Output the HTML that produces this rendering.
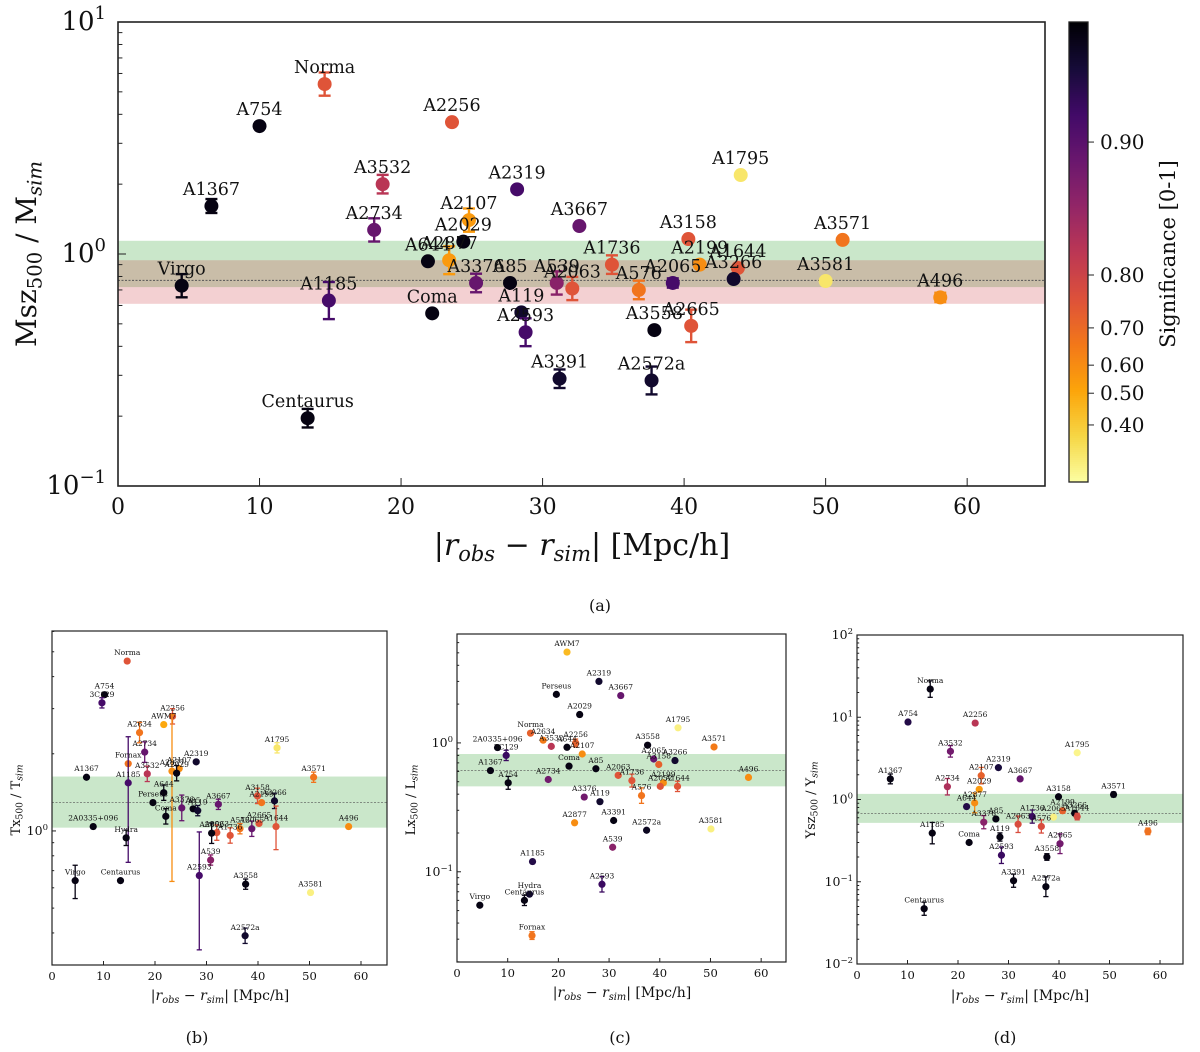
<!DOCTYPE html>
<html><head><meta charset="utf-8"><style>
html,body{margin:0;padding:0;background:#fff;}
svg{display:block;font-family:"DejaVu Serif","Liberation Serif",serif;}
</style></head><body>
<svg id="fig" width="1200" height="1052" viewBox="0 0 1200 1052" xmlns="http://www.w3.org/2000/svg"></svg>
<script>
// ---------- Panel (a): M_SZ500 / M_sim ----------
const aNames=["Norma","A754","A2256","A1795","A3532","A2319","A1367","A2107","A3667","A2734","A2029","A3158","A3571","A644","A2877","A3376","A85","A539","A2063","A1736","A576","A2065","A2199","A1644","A3266","A3581","A496","Virgo","A1185","Coma","A119","A2593","A3558","A2665","A3391","A2572a","Centaurus"];
const aX=[14.6,10.0,23.6,44.0,18.7,28.2,6.6,24.8,32.6,18.1,24.4,40.3,51.2,21.9,23.4,25.3,27.7,31.0,32.1,34.9,36.8,39.2,41.1,43.8,43.5,50.0,58.1,4.5,14.9,22.2,28.5,28.8,37.9,40.5,31.2,37.7,13.4];
const aY=[5.4,3.56,3.7,2.19,2.0,1.9,1.61,1.40,1.32,1.27,1.13,1.16,1.15,0.93,0.94,0.75,0.75,0.75,0.71,0.90,0.70,0.75,0.90,0.87,0.78,0.765,0.65,0.73,0.63,0.555,0.56,0.46,0.47,0.49,0.29,0.285,0.196];
const aSig=[0.75,0.99,0.75,0.35,0.82,0.92,0.99,0.55,0.89,0.89,0.99,0.75,0.67,0.99,0.55,0.89,0.99,0.86,0.75,0.75,0.67,0.92,0.6,0.75,0.97,0.35,0.6,0.99,0.92,0.99,0.97,0.92,0.99,0.75,0.97,0.97,0.99];
const aErrLo=[0.05,0,0,0,0.04,0,0.03,0.05,0,0.05,0,0,0,0,0.06,0.04,0,0.05,0.05,0.04,0.04,0.02,0,0,0,0,0.02,0.05,0.08,0,0,0.06,0,0.07,0.04,0.06,0.04];
const aErrHi=aErrLo;
const aBands=[[0.72,1.14],[0.61,0.94]];
const aLine=[0.77];
const aXTicks=[0,10,20,30,40,50,60];
const aYTickExp=[1,0,-1];

// ---------- Panel (b): T_X500 / T_sim ----------
const bNames=["Norma","A754","3C129","A2256","AWM7","A2877","A2634","A2734","Fornax","A3532","A2107","A2029","A2319","A1795","A3571","A1367","A1185","A644","Perseus","Coma","A3376","A85","A119","A3667","A3158","A2199","A3266","2A0335+096","A2665","A1644","A2063","A2052","A1736","A576","A2065","A496","Hydra","A539","A2593","Virgo","Centaurus","A3558","A3581","A2572a"];
const bX=[14.6,10.2,9.7,23.4,21.7,23.3,17.0,18.0,14.8,18.5,24.7,24.2,28.0,43.7,50.8,6.7,14.8,21.7,19.6,22.1,25.2,27.4,28.3,32.3,39.9,40.7,43.2,8.0,40.2,43.5,32.0,31.0,34.6,36.5,38.8,57.6,14.4,30.8,28.6,4.5,13.3,37.6,50.2,37.5];
const bY=[4.6,3.4,3.16,2.8,2.6,1.71,2.42,2.03,1.83,1.67,1.75,1.68,1.86,2.11,1.62,1.62,1.54,1.41,1.29,1.14,1.23,1.22,1.2,1.27,1.37,1.29,1.31,1.04,1.07,1.04,0.985,0.98,0.96,1.02,1.02,1.04,0.94,0.77,0.67,0.64,0.64,0.62,0.575,0.39];
const bSig=[0.75,0.99,0.92,0.75,0.5,0.6,0.67,0.89,0.67,0.82,0.6,0.99,0.97,0.35,0.67,0.99,0.92,0.99,0.99,0.99,0.89,0.99,0.97,0.89,0.75,0.67,0.97,0.99,0.75,0.75,0.75,0.99,0.75,0.67,0.89,0.6,0.99,0.86,0.92,0.99,0.99,0.99,0.33,0.97];
const bErrLo=[0,0,0.02,0.03,0,0.43,0.04,0.04,0,0.03,0,0.03,0,0.02,0.02,0,0.31,0.03,0,0.03,0.05,0,0.02,0.02,0.03,0,0.03,0,0,0.09,0.03,0.04,0.03,0.02,0.03,0,0.03,0.02,0.29,0.07,0,0.02,0,0.03];
const bErrHi=[0,0,0.02,0.03,0,0.22,0.04,0.04,0,0.03,0,0.03,0,0.02,0.02,0,0.18,0.03,0,0.03,0.05,0,0.02,0.02,0.03,0,0.03,0,0,0.08,0.03,0.04,0.03,0.02,0.03,0,0.03,0.02,0.17,0.06,0,0.02,0,0.03];
const bBands=[[1.03,1.63]];
const bLine=[1.29];
const bXTicks=[0,10,20,30,40,50,60];
const bYTickExp=[0];

// ---------- Panel (c): L_X500 / L_sim ----------
const cNames=["AWM7","A2319","Perseus","A3667","A2029","A1795","Norma","A2634","A3532","A644","A2256","A2107","2A0335+096","3C129","A3558","A3571","A2065","A3158","A3266","A1367","Coma","A85","A2063","A1736","A2734","A754","A2199","A2052","A1644","A496","A576","A3376","A119","A3391","A2877","A2572a","A3581","A539","A1185","A2593","Hydra","Centaurus","Virgo","Fornax"];
const cX=[21.7,28.0,19.6,32.3,24.2,43.6,14.5,17.0,18.6,21.7,23.4,24.7,8.0,9.7,37.6,50.7,38.8,39.8,43.0,6.6,22.1,27.4,31.8,34.5,18.0,10.1,40.7,40.1,43.5,57.5,36.4,25.1,28.2,30.9,23.2,37.4,50.1,30.7,14.9,28.6,14.3,13.3,4.5,14.8];
const cY=[5.07,3.0,2.38,2.33,1.66,1.31,1.19,1.05,0.94,0.925,1.0,0.82,0.92,0.80,0.96,0.93,0.75,0.68,0.73,0.61,0.66,0.63,0.56,0.51,0.52,0.49,0.49,0.46,0.46,0.54,0.39,0.38,0.35,0.25,0.24,0.21,0.215,0.155,0.12,0.08,0.067,0.06,0.055,0.032];
const cSig=[0.45,0.97,0.99,0.89,0.99,0.33,0.72,0.65,0.82,0.99,0.72,0.6,0.99,0.93,0.99,0.65,0.89,0.72,0.97,0.99,0.99,0.99,0.75,0.75,0.88,0.99,0.6,0.75,0.75,0.6,0.67,0.88,0.97,0.99,0.6,0.98,0.33,0.86,0.95,0.93,0.97,0.99,0.99,0.67];
const cErrLo=[0,0,0,0,0,0,0,0,0,0,0.03,0,0,0.04,0,0,0,0,0,0,0,0,0,0.05,0,0.05,0,0,0.04,0,0.06,0,0,0,0,0,0,0,0,0.06,0,0.04,0,0.03];
const cErrHi=cErrLo;
const cBands=[[0.46,0.82]];
const cLine=[0.61];
const cXTicks=[0,10,20,30,40,50,60];
const cYTickExp=[0,-1];

// ---------- Panel (d): Y_SZ500 / Y_sim ----------
const dNames=["Norma","A754","A2256","A3532","A1795","A2319","A2107","A3667","A1367","A2734","A2029","A3158","A3571","A2877","A644","A85","A3376","A1736","A2065","A2199","A3266","A1644","A2063","A576","A496","A1185","Coma","A119","A2665","A2593","A3558","A3391","A2572a","Centaurus"];
const dX=[14.5,10.1,23.4,18.5,43.6,28.0,24.6,32.3,6.6,17.9,24.2,39.9,50.8,23.3,21.7,27.5,25.1,34.7,38.9,40.7,43.1,43.6,31.9,36.5,57.6,14.9,22.2,28.3,40.2,28.6,37.6,31.0,37.4,13.3];
const dY=[22,8.75,8.5,3.85,3.7,2.44,1.95,1.78,1.78,1.43,1.33,1.08,1.15,0.91,0.82,0.58,0.53,0.62,0.61,0.73,0.68,0.62,0.50,0.47,0.41,0.39,0.30,0.35,0.29,0.21,0.20,0.103,0.087,0.047];
const dSig=[0.99,0.95,0.82,0.88,0.32,0.96,0.72,0.89,0.99,0.83,0.55,0.99,0.99,0.6,0.95,0.99,0.86,0.93,0.33,0.72,0.99,0.78,0.77,0.77,0.68,0.99,0.99,0.99,0.88,0.93,0.99,0.99,0.99,0.99];
const dErrLo=[0.1,0,0,0.07,0,0,0.1,0,0.06,0.1,0,0,0.03,0.12,0,0,0.08,0.08,0,0.03,0,0.04,0.1,0.08,0.04,0.13,0,0.05,0.12,0.1,0.04,0.08,0.12,0.08];
const dErrHi=dErrLo;
const dBands=[[0.52,1.17]];
const dLine=[0.68];
const dXTicks=[0,10,20,30,40,50,60];
const dYTickExp=[2,1,0,-1,-2];

// ---------- colormap ----------
const INF=[[0,0,0,4],[0.1,22,11,57],[0.2,66,10,104],[0.3,106,23,110],[0.4,147,38,103],[0.5,188,55,84],[0.6,221,81,58],[0.7,243,120,25],[0.8,252,165,10],[0.9,246,215,70],[1,252,255,164]];
function inferno(t){t=Math.max(0,Math.min(1,t));for(let i=1;i<INF.length;i++){if(t<=INF[i][0]){const a=INF[i-1],b=INF[i],u=(t-a[0])/(b[0]-a[0]);return `rgb(${Math.round(a[1]+u*(b[1]-a[1]))},${Math.round(a[2]+u*(b[2]-a[2]))},${Math.round(a[3]+u*(b[3]-a[3]))})`;}}return 'rgb(252,255,164)';}
const SIGMAP=[[0.3,0],[0.4,0.124],[0.5,0.193],[0.6,0.254],[0.7,0.335],[0.8,0.45],[0.9,0.739],[1.0,1]];
function sigFrac(s){if(s<=SIGMAP[0][0])return 0;for(let i=1;i<SIGMAP.length;i++){if(s<=SIGMAP[i][0]){const a=SIGMAP[i-1],b=SIGMAP[i];return a[1]+(s-a[0])/(b[0]-a[0])*(b[1]-a[1]);}}return 1;}
function sigColor(s){return inferno(1-sigFrac(s));}

const NS="http://www.w3.org/2000/svg";
const svg=document.getElementById('fig');
function el(tag,attrs,parent){const e=document.createElementNS(NS,tag);for(const k in attrs)e.setAttribute(k,attrs[k]);(parent||svg).appendChild(e);return e;}
function txt(s,attrs,parent){const e=el('text',attrs,parent);e.textContent=s;return e;}

function drawPanel(id,cfg,names,xs,ys,sig,eLo,eHi,bands,line,xt,yexp){
  const g=el('g',{});
  
  
  const {l,r,t,b,xmax,ylo,yhi}=cfg;
  const sx=v=>l+v/xmax*(r-l);
  const sy=v=>b-(Math.log10(v)-ylo)/(yhi-ylo)*(b-t);
  const clipId='clip-'+id;
  const cp=el('clipPath',{id:clipId},g);el('rect',{x:l,y:t,width:r-l,height:b-t},cp);
  const plot=el('g',{'clip-path':`url(#${clipId})`},g);
  const bandCols=['rgba(44,160,44,0.25)','rgba(200,40,50,0.22)'];
  bands.forEach((bd,i)=>{
    const rc=el('rect',{x:l,y:sy(bd[1]),width:r-l,height:sy(bd[0])-sy(bd[1]),fill:bandCols[i]},plot);
    
    
  });
  line.forEach(v=>{
    const ln=el('line',{x1:l,x2:r,y1:sy(v),y2:sy(v),stroke:'#555','stroke-width':cfg.big?1:0.6,'stroke-dasharray':'2,1.5'},plot);
    
    
  });
  const rad=cfg.big?7:3.6, cap=cfg.big?6:2.6, sw=cfg.big?2.4:1.3, fs=cfg.big?17.5:7.5, off=cfg.big?11:6;
  names.forEach((n,i)=>{
    const cx=sx(xs[i]),cy=sy(ys[i]),col=sigColor(sig[i]);
    const pg=el('g',{},plot);
    
    
    if(eLo[i]>0||eHi[i]>0){
      const y1=sy(ys[i]*Math.pow(10,eHi[i])),y2=sy(ys[i]/Math.pow(10,eLo[i]));
      el('line',{x1:cx,x2:cx,y1:y1,y2:y2,stroke:col,'stroke-width':sw},pg);
      el('line',{x1:cx-cap,x2:cx+cap,y1:y1,y2:y1,stroke:col,'stroke-width':sw},pg);
      el('line',{x1:cx-cap,x2:cx+cap,y1:y2,y2:y2,stroke:col,'stroke-width':sw},pg);
    }
    el('circle',{cx:cx,cy:cy,r:rad,fill:col},pg);
  });
  names.forEach((n,i)=>{
    const tl=txt(n,{x:sx(xs[i]),y:sy(ys[i])-off,'font-size':fs,'text-anchor':'middle',fill:'#111'},g);
    
    
  });
  // frame
  const fr=el('rect',{x:l,y:t,width:r-l,height:b-t,fill:'none',stroke:'#222','stroke-width':cfg.big?1.6:1.2},g);
  
  
  // x ticks
  const tk=cfg.big?8:4, tfs=cfg.big?22:11.5;
  xt.forEach(v=>{
    el('line',{x1:sx(v),x2:sx(v),y1:b,y2:b-tk,stroke:'#222','stroke-width':1},g);
    const tl=txt(String(v),{x:sx(v),y:b+(cfg.big?28:15),'font-size':tfs,'text-anchor':'middle',fill:'#111'},g);
    
    
  });
  // y minor ticks
  for(let k=Math.floor(ylo);k<=Math.ceil(yhi);k++){
    for(let m=1;m<10;m++){
      const lv=k+Math.log10(m);
      if(lv<ylo-1e-6||lv>yhi+1e-6)continue;
      const py=sy(Math.pow(10,lv));
      el('line',{x1:l,x2:l+(m===1?tk:tk*0.55),y1:py,y2:py,stroke:'#222','stroke-width':1},g);
    }
  }
  yexp.forEach(e=>{
    const py=sy(Math.pow(10,e));
    const tl=el('text',{x:l-(cfg.big?12:4),y:py+(cfg.big?8:4),'font-size':cfg.big?26:12.5,'text-anchor':'end',fill:'#111'},g);
    
    
    const t1=document.createElementNS(NS,'tspan');t1.textContent='10';tl.appendChild(t1);
    const t2=document.createElementNS(NS,'tspan');t2.setAttribute('dy',cfg.big?-11:-5);t2.setAttribute('font-size',cfg.big?18:8.5);t2.textContent=String(e).replace('-','\u2212');tl.appendChild(t2);
  });
  return {sx,sy,g};
}

const A=drawPanel('a',{l:118,r:1045,t:22,b:486,xmax:65.5,ylo:-1,yhi:1,big:true},aNames,aX,aY,aSig,aErrLo,aErrHi,aBands,aLine,aXTicks,aYTickExp);
const B=drawPanel('b',{l:52,r:387,t:631,b:965,xmax:65.05,ylo:-0.523,yhi:0.78},bNames,bX,bY,bSig,bErrLo,bErrHi,bBands,bLine,bXTicks,bYTickExp);
const C=drawPanel('c',{l:457,r:786,t:634,b:962,xmax:64.9,ylo:-1.70,yhi:0.845},cNames,cX,cY,cSig,cErrLo,cErrHi,cBands,cLine,cXTicks,cYTickExp);
const D=drawPanel('d',{l:857,r:1183,t:635,b:964,xmax:64.55,ylo:-2,yhi:2},dNames,dX,dY,dSig,dErrLo,dErrHi,dBands,dLine,dXTicks,dYTickExp);

// axis titles
function xTitle(x,y,fs,name){
  const t=el('text',{x:x,y:y,'font-size':fs,'text-anchor':'middle',fill:'#111'});
  
  
  t.innerHTML='|<tspan font-style="italic">r</tspan><tspan font-style="italic" font-size="'+(fs*0.7)+'" dy="'+(fs*0.2)+'">obs</tspan><tspan dy="'+(-fs*0.2)+'"> \u2212 </tspan><tspan font-style="italic">r</tspan><tspan font-style="italic" font-size="'+(fs*0.7)+'" dy="'+(fs*0.2)+'">sim</tspan><tspan dy="'+(-fs*0.2)+'">| [Mpc/h]</tspan>';
}
xTitle(582,555,30,'a-x-axis-title');
xTitle(220,1000,14,'b-x-axis-title');
xTitle(622,997,14,'c-x-axis-title');
xTitle(1020,1000,14,'d-x-axis-title');
function yTitle(x,y,fs,main,sub,den,name){
  const t=el('text',{x:0,y:0,'font-size':fs,'text-anchor':'middle',fill:'#111',transform:`translate(${x},${y}) rotate(-90)`});
  
  
  t.innerHTML=main+'<tspan font-size="'+(fs*0.7)+'" dy="'+(fs*0.2)+'">500</tspan><tspan dy="'+(-fs*0.2)+'"> / '+den.charAt(0)+'</tspan><tspan font-style="italic" font-size="'+(fs*0.7)+'" dy="'+(fs*0.2)+'">sim</tspan>';
}
yTitle(36,254,28,'Msz','','M','a-y-axis-title');
yTitle(20,800,13,'Tx','','T','b-y-axis-title');
yTitle(415,800,13,'Lx','','L','c-y-axis-title');
yTitle(815,800,13,'Ysz','','Y','d-y-axis-title');

// colorbar
const cb=el('g',{});


for(let p=22;p<482;p+=2){el('rect',{x:1069,y:p,width:19,height:2.3,fill:inferno(1-(482-p)/460)},cb);}
el('rect',{x:1069,y:22,width:19,height:460,fill:'none',stroke:'#222','stroke-width':1.3},cb);
const cbTicks=[0.9,0.8,0.7,0.6,0.5,0.4];
cbTicks.forEach(v=>{
  const py=482-sigFrac(v)*460;
  el('line',{x1:1088,x2:1094,y1:py,y2:py,stroke:'#222','stroke-width':1},cb);
  const tl=txt(v.toFixed(2),{x:1100,y:py+7,'font-size':20,fill:'#111'},cb);
  
  
});
const cbt=txt('Significance [0-1]',{x:0,y:0,'font-size':21,'text-anchor':'middle',fill:'#111',transform:'translate(1175,254) rotate(-90)'},cb);



// captions
[['(a)',600,611],['(b)',197,1043],['(c)',620,1043],['(d)',1005,1043]].forEach(c=>{
  const t=txt(c[0],{x:c[1],y:c[2],'font-size':16,'text-anchor':'middle',fill:'#111'});
  
  
});
</script>
</body></html>
